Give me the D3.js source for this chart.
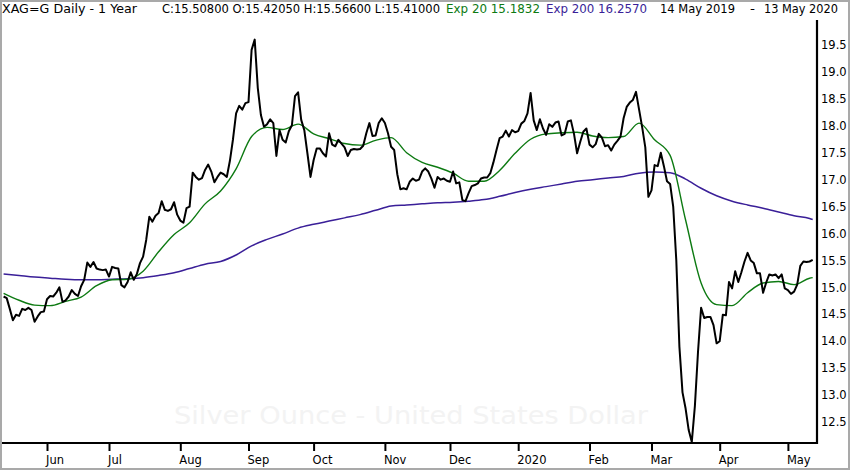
<!DOCTYPE html>
<html>
<head>
<meta charset="utf-8">
<script src="https://cdn.jsdelivr.net/npm/d3@7"></script>
<style>
  html, body { margin: 0; padding: 0; background: #fff; }
  svg { display: block; font-family: "DejaVu Sans", sans-serif; }
</style>
</head>
<body>
<svg id="chart" width="850" height="470"></svg>
<script>
// daily closes, 14 May 2019 - 13 May 2020 (weekdays)
var closes = [
  14.83, 14.80, 14.60, 14.39, 14.49, 14.47, 14.60, 14.58, 14.62, 14.58,
  14.36, 14.46, 14.54, 14.55, 14.78, 14.84, 14.83, 14.90, 15.00, 14.73,
  14.76, 14.83, 14.95, 14.88, 14.84, 15.02, 15.14, 15.46, 15.38, 15.47,
  15.35, 15.33, 15.32, 15.33, 15.20, 15.38, 15.36, 15.35, 15.04, 15.00,
  15.10, 15.28, 15.14, 15.25, 15.45, 15.57, 15.88, 16.31, 16.22, 16.33,
  16.38, 16.60, 16.44, 16.42, 16.45, 16.58, 16.35, 16.24, 16.20, 16.47,
  16.50, 17.13, 17.05, 17.00, 17.03, 17.18, 17.28, 17.15, 16.95, 17.05,
  17.13, 17.10, 17.05, 17.35, 17.75, 18.23, 18.37, 18.30, 18.42, 18.44,
  19.41, 19.60, 18.70, 18.20, 17.98, 18.03, 18.12, 18.05, 17.44, 17.92,
  17.74, 17.69, 17.90, 18.01, 18.55, 18.62, 18.11, 17.92, 17.49, 17.05,
  17.36, 17.58, 17.58, 17.49, 17.43, 17.86, 17.65, 17.62, 17.74, 17.67,
  17.60, 17.44, 17.55, 17.57, 17.56, 17.57, 17.63, 17.86, 18.05, 17.81,
  17.82, 18.05, 18.14, 18.05, 17.86, 17.61, 17.55, 17.10, 16.82, 16.84,
  16.82, 16.96, 17.02, 16.98, 17.00, 17.15, 17.21, 17.15, 17.02, 16.85,
  17.05, 17.00, 17.02, 16.98, 16.96, 17.15, 16.93, 16.95, 16.62, 16.60,
  16.75, 16.88, 16.90, 16.93, 17.02, 17.04, 17.04, 17.12, 17.32, 17.55,
  17.77, 17.80, 17.91, 17.80, 17.92, 17.88, 17.90, 18.04, 18.09, 18.23,
  18.61, 18.10, 17.92, 18.12, 17.95, 17.83, 18.03, 17.98, 18.06, 18.08,
  17.82, 17.85, 18.08, 18.10, 17.85, 17.49, 17.70, 17.89, 17.95, 17.65,
  17.60, 17.66, 17.85, 17.78, 17.62, 17.64, 17.54, 17.65, 17.72, 17.80,
  18.14, 18.35, 18.43, 18.48, 18.63, 18.30, 17.97, 17.60, 16.68, 16.80,
  17.27, 17.25, 17.50, 17.25, 16.97, 16.92, 16.50, 15.50, 13.90, 13.05,
  12.75, 12.35, 12.13, 12.80, 13.80, 14.62, 14.43, 14.45, 14.45, 14.30,
  13.96, 14.00, 14.49, 14.48, 15.10, 14.98, 15.30, 15.10, 15.28, 15.48,
  15.64, 15.50, 15.45, 15.26, 15.26, 14.90, 15.09, 15.24, 15.22, 15.24,
  15.17, 15.24, 14.98, 14.95, 14.88, 14.92, 15.05, 15.40, 15.48, 15.47,
  15.48, 15.51
];

// moving averages, read every 5th session (last one = final session)
var ema20 = [
  14.89, 14.76, 14.67, 14.66, 14.74, 14.82, 15.03, 15.14, 15.15, 15.30,
  15.66, 15.98, 16.20, 16.55, 16.79, 17.20, 17.80, 17.97, 17.93, 18.03,
  17.85, 17.76, 17.67, 17.64, 17.73, 17.78, 17.50, 17.32, 17.23, 17.12,
  16.97, 16.97, 17.17, 17.49, 17.75, 17.85, 17.87, 17.88, 17.81, 17.78,
  17.80, 18.05, 17.74, 17.45, 16.25, 15.08, 14.68, 14.66, 14.90, 15.08,
  15.11, 15.05, 15.17, 15.18
];
var ema200 = [
  15.25, 15.22, 15.19, 15.17, 15.15, 15.14, 15.14, 15.15, 15.16, 15.18,
  15.22, 15.27, 15.35, 15.43, 15.48, 15.60, 15.77, 15.89, 15.99, 16.10,
  16.17, 16.23, 16.29, 16.35, 16.43, 16.51, 16.53, 16.55, 16.57, 16.58,
  16.60, 16.63, 16.69, 16.76, 16.82, 16.87, 16.92, 16.97, 17.00, 17.03,
  17.06, 17.12, 17.14, 17.13, 17.01, 16.84, 16.70, 16.60, 16.53, 16.47,
  16.40, 16.33, 16.28, 16.26
];
var emaEvery = 5;

var monthLabels = ["Jun", "Jul", "Aug", "Sep", "Oct", "Nov", "Dec", "2020", "Feb", "Mar", "Apr", "May"];
var priceTicks = [12.5, 13.0, 13.5, 14.0, 14.5, 15.0, 15.5, 16.0, 16.5, 17.0, 17.5, 18.0, 18.5, 19.0, 19.5];

var titleParts = [
  "XAG=G Daily -  1 Year",
  "C:15.50800 O:15.42050 H:15.56600 L:15.41000",
  "Exp 20 15.1832",
  "Exp 200 16.2570",
  "14 May 2019",
  "-",
  "13 May 2020"
];
var watermark = "Silver Ounce - United States Dollar";

// ---------------------------------------------------------------

var svg = d3.select("#chart");
var W = 850, H = 470;
var plot = { left: 2, right: 817, top: 20, bottom: 443 };

var colors = { price: "#000", ema20: "#0d7a12", ema200: "#3a1f98", frame: "#a9a9a9" };

// sessions: every weekday in the year
var days = d3.timeDays(new Date(2019, 4, 14), new Date(2020, 4, 14))
  .filter(function(d) { return d.getDay() !== 0 && d.getDay() !== 6; });

var monthStarts = [];
days.forEach(function(d, i) {
  if (i > 0 && d.getMonth() !== days[i - 1].getMonth()) monthStarts.push(i);
});

var x = d3.scaleLinear()
  .domain([0, closes.length - 1])
  .range([3.6, 812.7]);

var y = d3.scaleLinear()
  .domain([12.11, 19.964])
  .range([plot.bottom, plot.top]);

svg.append("rect")
  .attr("width", W).attr("height", H)
  .attr("fill", "#fff");

// faint watermark
svg.append("text")
  .attr("x", 411).attr("y", 424)
  .attr("text-anchor", "middle")
  .attr("font-size", 24)
  .attr("textLength", 474)
  .attr("lengthAdjust", "spacingAndGlyphs")
  .attr("fill", "#f3f3f3")
  .text(watermark);

svg.append("clipPath").attr("id", "clip")
  .append("rect")
  .attr("x", plot.left).attr("y", plot.top)
  .attr("width", plot.right - plot.left).attr("height", plot.bottom - plot.top);

var g = svg.append("g").attr("clip-path", "url(#clip)");

function emaLine(arr) {
  return d3.line()
    .x(function(d, k) { return x(Math.min(k * emaEvery, closes.length - 1)); })
    .y(function(d) { return y(d); })
    .curve(d3.curveMonotoneX)(arr);
}

g.append("path")
  .attr("d", emaLine(ema200))
  .attr("fill", "none")
  .attr("stroke", colors.ema200)
  .attr("stroke-width", 1.5);

g.append("path")
  .attr("d", emaLine(ema20))
  .attr("fill", "none")
  .attr("stroke", colors.ema20)
  .attr("stroke-width", 1.4);

var priceLine = d3.line()
  .x(function(d, i) { return x(i); })
  .y(function(d) { return y(d); });

g.append("path")
  .datum(closes)
  .attr("d", priceLine)
  .attr("fill", "none")
  .attr("stroke", colors.price)
  .attr("stroke-width", 2)
  .attr("stroke-linejoin", "round");

// bottom axis
var xAxis = d3.axisBottom(x)
  .tickValues(monthStarts)
  .tickFormat(function(d, i) { return monthLabels[i]; })
  .tickSize(8)
  .tickSizeOuter(0);

var gx = svg.append("g")
  .attr("transform", "translate(0," + plot.bottom + ")")
  .call(xAxis);
gx.select(".domain").remove();
gx.selectAll(".tick line").attr("stroke", "#000").attr("stroke-width", 2);
gx.selectAll(".tick text")
  .attr("text-anchor", "start")
  .attr("x", -1.5).attr("y", 13)
  .attr("font-family", "DejaVu Sans, sans-serif")
  .attr("font-size", 11.5)
  .attr("fill", "#000");

// right axis
var yAxis = d3.axisRight(y)
  .tickValues(priceTicks)
  .tickFormat(d3.format(".1f"))
  .tickSize(0)
  .tickPadding(4);

var gy = svg.append("g")
  .attr("transform", "translate(" + plot.right + ",0)")
  .call(yAxis);
gy.select(".domain").remove();
gy.selectAll(".tick text")
  .attr("font-family", "DejaVu Sans, sans-serif")
  .attr("font-size", 11.5)
  .attr("fill", "#000");

svg.append("line")
  .attr("x1", plot.left).attr("x2", plot.right + 1)
  .attr("y1", plot.bottom).attr("y2", plot.bottom)
  .attr("stroke", "#000").attr("stroke-width", 2.2);
svg.append("line")
  .attr("x1", plot.right).attr("x2", plot.right)
  .attr("y1", plot.top).attr("y2", plot.bottom + 1)
  .attr("stroke", "#000").attr("stroke-width", 2.2);

// title line
var titleLayout = [
  { x: 2, w: 135, c: "#000" },
  { x: 162, w: 278, c: "#000" },
  { x: 446, w: 94, c: colors.ema20 },
  { x: 546, w: 101, c: colors.ema200 },
  { x: 660, w: 75, c: "#000" },
  { x: 750, w: 5, c: "#000" },
  { x: 764, w: 74, c: "#000" }
];

svg.append("g").selectAll("text")
  .data(titleParts)
  .enter()
  .append("text")
  .attr("x", function(d, i) { return titleLayout[i].x; })
  .attr("y", 12.5)
  .attr("font-size", 12)
  .attr("textLength", function(d, i) { return titleLayout[i].w; })
  .attr("lengthAdjust", "spacingAndGlyphs")
  .attr("fill", function(d, i) { return titleLayout[i].c; })
  .text(function(d) { return d; });

// outer frame
svg.append("rect")
  .attr("x", 1).attr("y", 1)
  .attr("width", W - 2).attr("height", H - 2)
  .attr("fill", "none")
  .attr("stroke", colors.frame)
  .attr("stroke-width", 2);
</script>
</body>
</html>
